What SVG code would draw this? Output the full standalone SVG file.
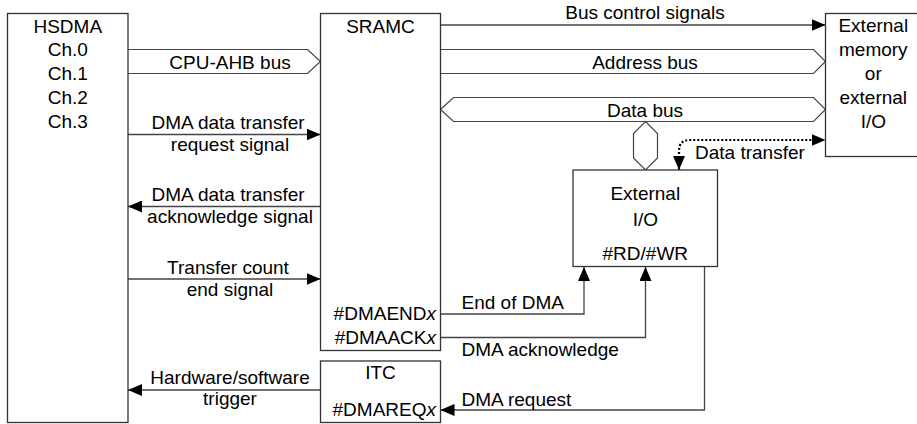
<svg xmlns="http://www.w3.org/2000/svg" width="917" height="424" viewBox="0 0 917 424">
<style>
text{font-family:"Liberation Sans",Arial,sans-serif;font-size:19px;fill:#000}
.c{text-anchor:middle}
.e{text-anchor:end}
.box{fill:#fff;stroke:#333;stroke-width:1.3}
.ln{fill:none;stroke:#444;stroke-width:1.3}
.bus{fill:#fff;stroke:#444;stroke-width:1.2}
.dot{fill:none;stroke:#000;stroke-width:2.2;stroke-dasharray:2 2}
.i{font-style:italic}
</style>
<defs>
<marker id="ah" viewBox="0 0 14 12" refX="14" refY="6" markerWidth="14" markerHeight="12" orient="auto-start-reverse" markerUnits="userSpaceOnUse">
<path d="M0,0 L14,6 L0,12 z" fill="#000"/>
</marker>
</defs>
<g id="connectors">
<path class="bus" d="M128,49.5 H307.5 L320.5,61.5 L307.5,73.5 H128"/>
<path class="bus" d="M440.5,49.5 H813.5 L825.5,61.5 L813.5,73.5 H440.5"/>
<path class="bus" d="M440.5,109.5 L453.5,97.5 H813.5 L825.5,109.5 L813.5,121.5 H453.5 Z"/>
<path class="bus" d="M645.5,121.5 L657.5,133.5 V158 L645.5,170 L633.5,158 V133.5 Z"/>
<path class="ln" d="M128,134.5 H320.5" marker-end="url(#ah)"/>
<path class="ln" d="M320.5,206.5 H128" marker-end="url(#ah)"/>
<path class="ln" d="M128,279 H320.5" marker-end="url(#ah)"/>
<path class="ln" d="M320.5,390 H128" marker-end="url(#ah)"/>
<path class="ln" d="M440.5,25 H825.5" marker-end="url(#ah)"/>
<path class="ln" d="M440.5,314 H584 V267" marker-end="url(#ah)"/>
<path class="ln" d="M440.5,337.5 H645.5 V267" marker-end="url(#ah)"/>
<path class="ln" d="M704.5,267 V410 H440.5" marker-end="url(#ah)"/>
<path class="dot" d="M679,170 V151 Q679,140 690,140 H825.5" marker-start="url(#ah)" marker-end="url(#ah)"/>
<text class="c" x="230" y="69">CPU-AHB bus</text>
<text class="c" x="228" y="129">DMA data transfer</text>
<text class="c" x="230" y="150.5">request signal</text>
<text class="c" x="228" y="201">DMA data transfer</text>
<text class="c" x="230" y="222.5">acknowledge signal</text>
<text class="c" x="228" y="273.5">Transfer count</text>
<text class="c" x="230" y="295.5">end signal</text>
<text class="c" x="230" y="383.5">Hardware/software</text>
<text class="c" x="230" y="404.5">trigger</text>
<text class="c" x="645" y="18.5">Bus control signals</text>
<text class="c" x="645" y="68.5">Address bus</text>
<text class="c" x="645" y="116.5">Data bus</text>
<text x="695" y="158.5">Data transfer</text>
<text x="461.5" y="309">End of DMA</text>
<text x="461.5" y="356">DMA acknowledge</text>
<text x="461.5" y="406">DMA request</text>
</g>
<g id="hsdma">
<rect class="box" x="7.5" y="13.5" width="120.5" height="409"/>
<text class="c" x="67.75" y="32.5">HSDMA</text>
<text class="c" x="67.75" y="56.3">Ch.0</text>
<text class="c" x="67.75" y="80.1">Ch.1</text>
<text class="c" x="67.75" y="103.9">Ch.2</text>
<text class="c" x="67.75" y="127.7">Ch.3</text>
</g>
<g id="sramc">
<rect class="box" x="320.5" y="13.5" width="120" height="337"/>
<text class="c" x="380.5" y="32.5">SRAMC</text>
<text class="e" x="436" y="319.5">#DMAEND<tspan class="i">x</tspan></text>
<text class="e" x="436" y="343.5">#DMAACK<tspan class="i">x</tspan></text>
</g>
<g id="itc">
<rect class="box" x="320.5" y="361" width="120" height="61.5"/>
<text class="c" x="380.5" y="379">ITC</text>
<text class="e" x="436" y="415.5">#DMAREQ<tspan class="i">x</tspan></text>
</g>
<g id="extmem">
<rect class="box" x="825.5" y="13.5" width="100" height="143"/>
<text class="c" x="873.3" y="32.3">External</text>
<text class="c" x="873.3" y="56.2">memory</text>
<text class="c" x="873.3" y="80.1">or</text>
<text class="c" x="873.3" y="103.9">external</text>
<text class="c" x="873.3" y="127.8">I/O</text>
</g>
<g id="extio">
<rect class="box" x="573" y="170" width="144.5" height="96.5"/>
<text class="c" x="645.3" y="200">External</text>
<text class="c" x="645.3" y="225.5">I/O</text>
<text class="c" x="645.3" y="260">#RD/#WR</text>
</g>
</svg>
